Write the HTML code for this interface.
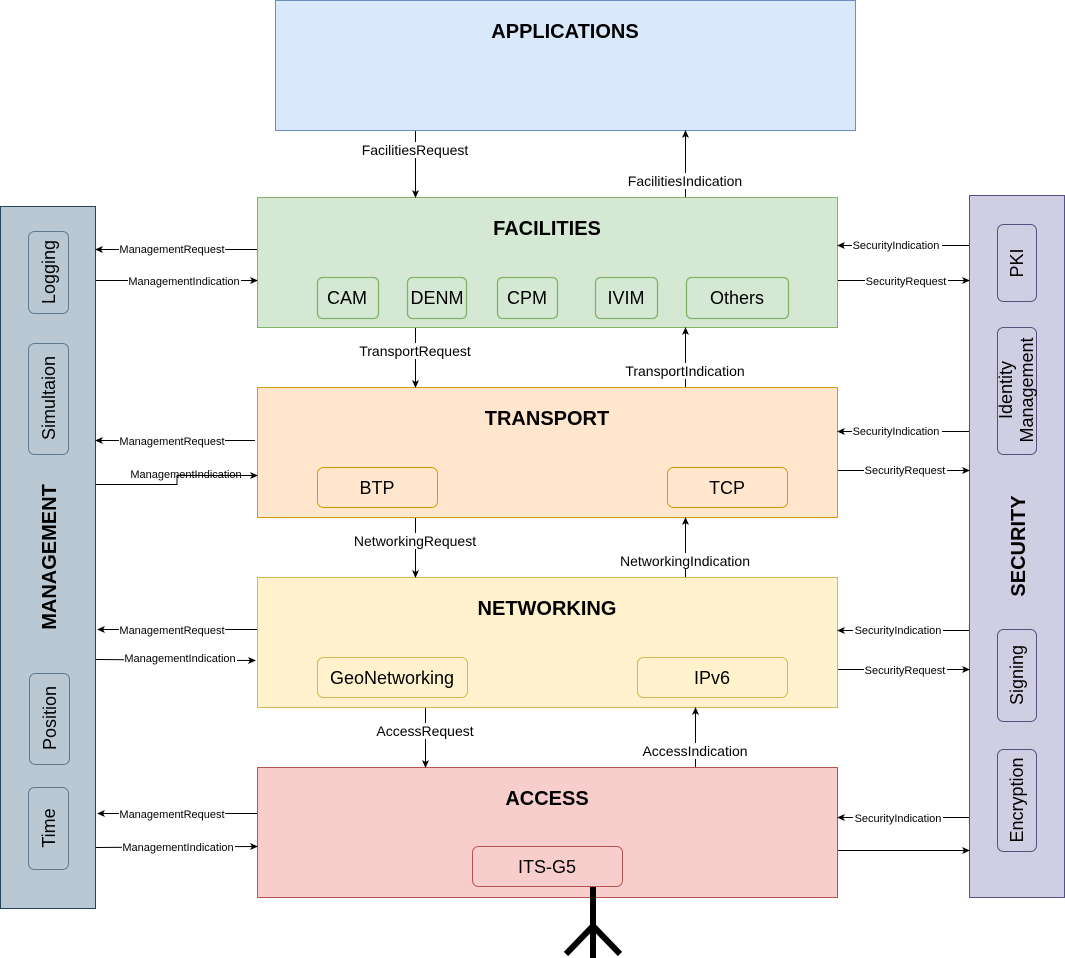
<!DOCTYPE html>
<html><head><meta charset="utf-8"><style>
html,body{margin:0;padding:0;background:#fff;}
svg{display:block;font-family:"Liberation Sans",sans-serif;}
</style></head><body>
<svg width="1065" height="958" viewBox="0 0 1065 958" xmlns="http://www.w3.org/2000/svg">
<defs>
<marker id="a" markerWidth="8" markerHeight="8" refX="7" refY="4" orient="auto" markerUnits="userSpaceOnUse">
<path d="M0,0.5 L8,4 L0,7.5 L2,4 Z" fill="#000"/></marker>
</defs>
<!-- layers -->
<rect x="275.5" y="0.5" width="580" height="130" fill="#dae8fc" stroke="#6c8ebf"/>
<text x="565" y="38" text-anchor="middle" font-size="20" font-weight="bold">APPLICATIONS</text>
<rect x="257.5" y="197.5" width="580" height="130" fill="#d5e8d4" stroke="#82b366"/>
<text x="547" y="235" text-anchor="middle" font-size="20" font-weight="bold">FACILITIES</text>
<rect x="257.5" y="387.5" width="580" height="130" fill="#ffe6cc" stroke="#d79b00"/>
<text x="547" y="425" text-anchor="middle" font-size="20" font-weight="bold">TRANSPORT</text>
<rect x="257.5" y="577.5" width="580" height="130" fill="#fff2cc" stroke="#d6b656"/>
<text x="547" y="615" text-anchor="middle" font-size="20" font-weight="bold">NETWORKING</text>
<rect x="257.5" y="767.5" width="580" height="130" fill="#f8cecc" stroke="#b85450"/>
<text x="547" y="805" text-anchor="middle" font-size="20" font-weight="bold">ACCESS</text>
<!-- facilities sub -->
<g fill="none" stroke="#82b366" stroke-width="1.3">
<rect x="317.5" y="277.5" width="61" height="41" rx="5"/>
<rect x="407.5" y="277.5" width="59" height="41" rx="5"/>
<rect x="497.5" y="277.5" width="60" height="41" rx="5"/>
<rect x="595.5" y="277.5" width="62" height="41" rx="5"/>
<rect x="686.5" y="277.5" width="102" height="41" rx="5"/>
</g>
<g font-size="18" text-anchor="middle">
<text x="347" y="304">CAM</text><text x="437" y="304">DENM</text><text x="527" y="304">CPM</text>
<text x="626" y="304">IVIM</text><text x="737" y="304">Others</text>
</g>
<rect x="317.5" y="467.5" width="120" height="40" rx="6" fill="#ffe6cc" stroke="#d79b00"/>
<text x="377" y="494" text-anchor="middle" font-size="18">BTP</text>
<rect x="667.5" y="467.5" width="120" height="40" rx="6" fill="#ffe6cc" stroke="#d79b00"/>
<text x="727" y="494" text-anchor="middle" font-size="18">TCP</text>
<rect x="317.5" y="657.5" width="150" height="40" rx="6" fill="#fff2cc" stroke="#d6b656"/>
<text x="392" y="684" text-anchor="middle" font-size="18">GeoNetworking</text>
<rect x="637.5" y="657.5" width="150" height="40" rx="6" fill="#fff2cc" stroke="#d6b656"/>
<text x="712" y="684" text-anchor="middle" font-size="18">IPv6</text>
<rect x="472.5" y="846.5" width="150" height="40" rx="6" fill="#f8cecc" stroke="#b85450"/>
<text x="547" y="873" text-anchor="middle" font-size="18">ITS-G5</text>
<!-- antenna -->
<g stroke="#000" stroke-width="6" fill="none">
<line x1="593" y1="887" x2="593" y2="958"/>
<polyline points="566,954 593,926 620,954"/>
</g>
<!-- management -->
<rect x="0.5" y="206.5" width="95" height="702" fill="#bac8d3" stroke="#23445d"/>
<text transform="translate(56,557) rotate(-90)" text-anchor="middle" font-size="20" font-weight="bold">MANAGEMENT</text>
<g fill="#bac8d3" stroke="#5f7a8f">
<rect x="28.5" y="231.5" width="40" height="82" rx="6"/>
<rect x="28.5" y="343.5" width="40" height="111" rx="6"/>
<rect x="29.5" y="673.5" width="40" height="91" rx="6"/>
<rect x="28.5" y="787.5" width="40" height="82" rx="6"/>
</g>
<g font-size="18" text-anchor="middle">
<text transform="translate(55,272) rotate(-90)">Logging</text>
<text transform="translate(55,398) rotate(-90)">Simultaion</text>
<text transform="translate(56,718) rotate(-90)">Position</text>
<text transform="translate(55,828) rotate(-90)">Time</text>
</g>
<!-- security -->
<rect x="969.5" y="195.5" width="95" height="702" fill="#d0cee2" stroke="#56517e"/>
<text transform="translate(1025,546) rotate(-90)" text-anchor="middle" font-size="20" font-weight="bold">SECURITY</text>
<g fill="#d0cee2" stroke="#56517e">
<rect x="997.5" y="224.5" width="39" height="77" rx="6"/>
<rect x="997.5" y="327.5" width="39" height="127" rx="6"/>
<rect x="997.5" y="629.5" width="39" height="92" rx="6"/>
<rect x="997.5" y="749.5" width="39" height="102" rx="6"/>
</g>
<g font-size="18" text-anchor="middle">
<text transform="translate(1023,263) rotate(-90)">PKI</text>
<text transform="translate(1012,390) rotate(-90)">Identity</text>
<text transform="translate(1033,390) rotate(-90)">Management</text>
<text transform="translate(1023,675) rotate(-90)">Signing</text>
<text transform="translate(1023,800) rotate(-90)">Encryption</text>
</g>
<!-- vertical arrows -->
<g stroke="#000" fill="none" marker-end="url(#a)">
<line x1="415.5" y1="131" x2="415.5" y2="197"/>
<line x1="685.5" y1="197" x2="685.5" y2="131"/>
<line x1="415.5" y1="328" x2="415.5" y2="387"/>
<line x1="685.5" y1="387" x2="685.5" y2="328"/>
<line x1="415.5" y1="518" x2="415.5" y2="577"/>
<line x1="685.5" y1="577" x2="685.5" y2="518"/>
<line x1="425.5" y1="708" x2="425.5" y2="767"/>
<line x1="695.5" y1="767" x2="695.5" y2="708"/>
</g>
<!-- horizontal arrows -->
<g stroke="#000" fill="none" marker-end="url(#a)">
<line x1="257" y1="249.5" x2="96" y2="249.5"/>
<line x1="96" y1="280.5" x2="257" y2="280.5"/>
<line x1="255" y1="440.5" x2="96" y2="440.5"/>
<polyline points="96,484.5 177,484.5 177,475.5 257,475.5"/>
<line x1="257" y1="629.5" x2="98" y2="629.5"/>
<line x1="96" y1="659.5" x2="255" y2="660.5"/>
<line x1="257" y1="813.5" x2="98" y2="813.5"/>
<line x1="96" y1="847.5" x2="257" y2="846.5"/>
<line x1="969" y1="245.5" x2="838" y2="245.5"/>
<line x1="838" y1="280.5" x2="969" y2="280.5"/>
<line x1="969" y1="431.5" x2="838" y2="431.5"/>
<line x1="838" y1="470.5" x2="969" y2="470.5"/>
<line x1="969" y1="630.5" x2="838" y2="630.5"/>
<line x1="838" y1="669.5" x2="969" y2="669.5"/>
<line x1="969" y1="817.5" x2="838" y2="817.5"/>
<line x1="838" y1="850.5" x2="969" y2="850.5"/>
</g>
<!-- labels -->
<g font-size="14" text-anchor="middle">
<rect x="360" y="142" width="112" height="16" fill="#fff"/><text x="415" y="155">FacilitiesRequest</text>
<rect x="626" y="173" width="120" height="16" fill="#fff"/><text x="685" y="186">FacilitiesIndication</text>
<rect x="358" y="343" width="115" height="16" fill="#fff"/><text x="415" y="356">TransportRequest</text>
<rect x="624" y="363" width="123" height="16" fill="#fff"/><text x="685" y="376">TransportIndication</text>
<rect x="352" y="533" width="127" height="16" fill="#fff"/><text x="415" y="546">NetworkingRequest</text>
<rect x="618" y="553" width="134" height="16" fill="#fff"/><text x="685" y="566">NetworkingIndication</text>
<rect x="375" y="723" width="101" height="16" fill="#fff"/><text x="425" y="736">AccessRequest</text>
<rect x="641" y="743" width="109" height="16" fill="#fff"/><text x="695" y="756">AccessIndication</text>
</g>
<g font-size="11" text-anchor="middle">
<rect x="119" y="243" width="106" height="13" fill="#fff"/><text x="172" y="253">ManagementRequest</text>
<rect x="128" y="274" width="113" height="13" fill="#fff"/><text x="184" y="285">ManagementIndication</text>
<rect x="119" y="434" width="106" height="13" fill="#fff"/><text x="172" y="445">ManagementRequest</text>
<text x="186" y="478">ManagementIndication</text>
<rect x="119" y="623" width="106" height="13" fill="#fff"/><text x="172" y="634">ManagementRequest</text>
<rect x="124" y="652" width="113" height="13" fill="#fff"/><text x="180" y="662">ManagementIndication</text>
<rect x="119" y="807" width="106" height="13" fill="#fff"/><text x="172" y="818">ManagementRequest</text>
<rect x="122" y="841" width="113" height="13" fill="#fff"/><text x="178" y="851">ManagementIndication</text>
<rect x="852" y="239" width="90" height="13" fill="#fff"/><text x="896" y="249">SecurityIndication</text>
<rect x="865" y="274" width="83" height="13" fill="#fff"/><text x="906" y="285">SecurityRequest</text>
<rect x="852" y="425" width="90" height="13" fill="#fff"/><text x="896" y="435">SecurityIndication</text>
<rect x="864" y="464" width="83" height="13" fill="#fff"/><text x="905" y="474">SecurityRequest</text>
<rect x="853" y="624" width="90" height="13" fill="#fff"/><text x="898" y="634">SecurityIndication</text>
<rect x="864" y="663" width="83" height="13" fill="#fff"/><text x="905" y="674">SecurityRequest</text>
<rect x="853" y="811" width="90" height="13" fill="#fff"/><text x="898" y="822">SecurityIndication</text>
</g>
</svg>
</body></html>
